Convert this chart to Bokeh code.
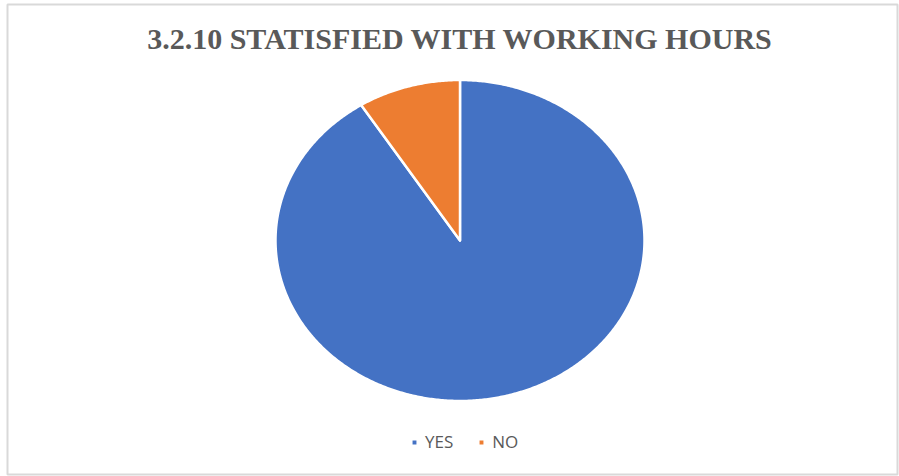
import numpy as np
from bokeh.plotting import figure
from bokeh.models import Range1d, Legend, LegendItem
from bokeh.embed import file_html
from bokeh.resources import INLINE
from bokeh.core.properties import value

# ---- data ----
categories = ["YES", "NO"]
shares = [91, 9]
colors = ["#4472C4", "#ED7D31"]
title_text = "3.2.10 STATISFIED WITH WORKING HOURS"

W, H = 899, 476
ml, mr, mt, mb = 7, 2, 4, 2
fw, fh = W - ml - mr, H - mt - mb
cx_px, cy_px, rx_px, ry_px = 459.5 - ml, 240 - mt, 184.5, 160.5

x0 = -cx_px / rx_px
x1 = (fw - cx_px) / rx_px
y1 = cy_px / ry_px
y0 = -(fh - cy_px) / ry_px

p = figure(width=W, height=H, output_backend="svg", toolbar_location=None,
           x_range=Range1d(x0, x1), y_range=Range1d(y0, y1),
           min_border_left=ml, min_border_right=mr, min_border_top=mt, min_border_bottom=mb)
p.axis.visible = False
p.grid.visible = False
p.outline_line_color = "#d9d9d9"
p.outline_line_width = 2
p.background_fill_color = "white"
p.border_fill_color = "white"

total = float(sum(shares))
# Excel style: start at 12 o'clock, go clockwise
start = np.pi / 2
renderers = []
for cat, v, c in zip(categories, shares, colors):
    sweep = 2 * np.pi * v / total
    n = max(int(720 * v / total), 8)
    ang = np.linspace(start, start - sweep, n)
    xs = [0.0] + list(np.cos(ang)) + [0.0]
    ys = [0.0] + list(np.sin(ang)) + [0.0]
    r = p.patch(xs, ys, fill_color=c, line_color="white", line_width=2.5, line_join="round")
    renderers.append((cat, r))
    start -= sweep

p.text(x=[0.0], y=[(cy_px - 34) / ry_px], text=[title_text],
       text_font=value("Liberation Serif"), text_font_style="bold",
       text_font_size="30px", text_color="#595959",
       text_align="center", text_baseline="middle")

legend = Legend(items=[LegendItem(label=cat, renderers=[r]) for cat, r in renderers],
                orientation="horizontal", location=(403, 21),
                label_text_font="Open Sans", label_text_font_size="17px",
                label_text_color="#595959", glyph_width=8, glyph_height=8,
                label_height=10, label_standoff=7, spacing=24, padding=0, margin=0,
                border_line_color=None, background_fill_alpha=0)
p.add_layout(legend, "center")

open("out.html", "w").write(file_html(p, INLINE))
